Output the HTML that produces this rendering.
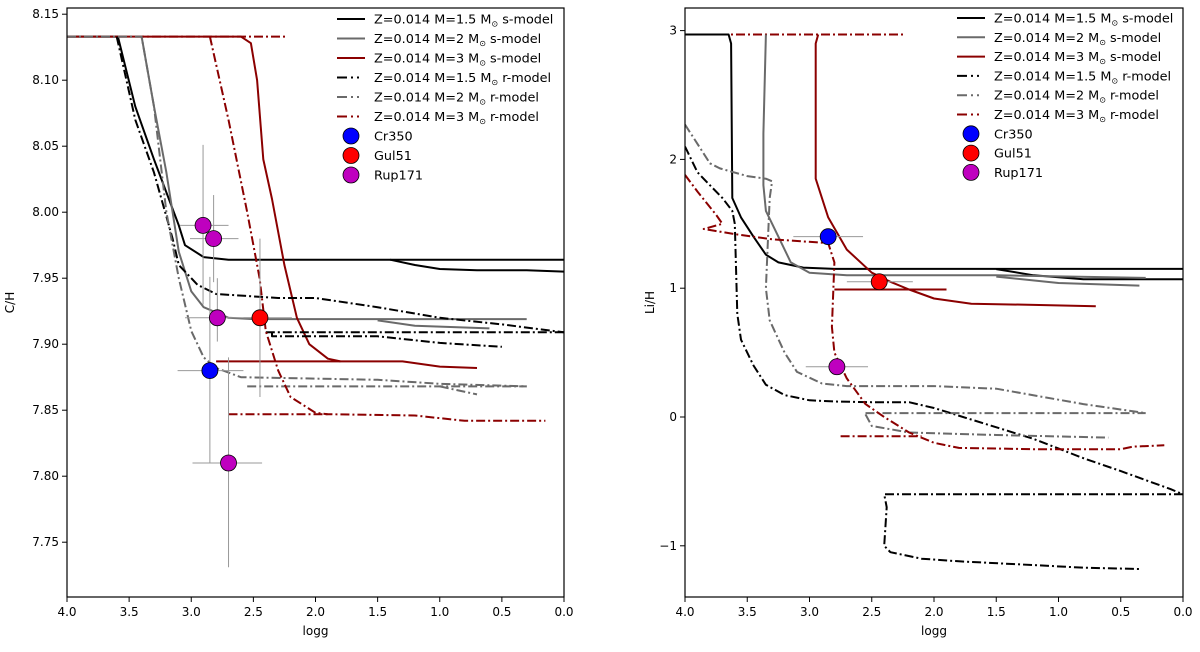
<!DOCTYPE html>
<html><head><meta charset="utf-8"><style>
html,body{margin:0;padding:0;background:#fff}
svg text{font-family:"DejaVu Sans","Liberation Sans",sans-serif;fill:#000}
</style></head><body>
<svg id="chart" width="1200" height="647" xmlns="http://www.w3.org/2000/svg"></svg>
<script>
// ---- data (logg, abundance) ----
const topC = 8.133, topLi = 2.97;
const cS15 = [[4,topC],[3.59,topC],[3.45,8.08],[3.3,8.04],[3.1,7.99],[3.05,7.975],[2.9,7.966],[2.7,7.964],[1.5,7.964],[0,7.964]];
const cS15b = [[1.4,7.964],[1.2,7.96],[1.0,7.957],[0.7,7.956],[0.3,7.956],[0,7.955]];
const cS2 = [[3.4,topC],[3.3,8.08],[3.2,8.03],[3.1,7.97],[3.0,7.94],[2.9,7.928],[2.7,7.92],[2.5,7.919],[0.3,7.919]];
const cS2b = [[1.5,7.918],[1.2,7.914],[0.6,7.912]];
const cS3 = [[4,topC],[2.6,topC],[2.52,8.128],[2.47,8.1],[2.42,8.04],[2.35,8.01],[2.25,7.96],[2.15,7.92],[2.05,7.9],[1.9,7.889],[1.8,7.887],[1.3,7.887],[1.0,7.883],[0.7,7.882]];
const cS3b = [[2.8,7.887],[1.8,7.887]];
const cR15 = [[3.6,topC],[3.45,8.07],[3.3,8.03],[3.15,7.98],[3.1,7.96],[2.95,7.945],[2.8,7.938],[2.3,7.935],[2.0,7.935],[1.5,7.928],[1.0,7.92],[0.5,7.915],[0,7.909]];
const cR15b = [[2.4,7.909],[0,7.909]];
const cR15c = [[2.35,7.909],[2.35,7.906],[1.5,7.906],[1.0,7.901],[0.5,7.898]];
const cR2 = [[4,topC],[3.4,topC],[3.3,8.08],[3.2,8.0],[3.1,7.95],[3.0,7.91],[2.9,7.89],[2.8,7.882],[2.6,7.875],[1.5,7.873],[1.0,7.87],[0.3,7.868]];
const cR2b = [[2.55,7.868],[0.3,7.868]];
const cR2c = [[1.0,7.868],[0.7,7.862]];
const cR3 = [[2.85,topC],[2.7,8.07],[2.55,8.0],[2.45,7.95],[2.4,7.91],[2.3,7.88],[2.2,7.86],[2.0,7.848],[1.9,7.847],[1.2,7.846],[0.8,7.842],[0.15,7.842]];
const cR3b = [[2.7,7.847],[1.9,7.847]];
const cTop = [[4,topC],[2.24,topC]];
const cPts = [{name:"Cr350",c:"#0000ff",g:2.85,v:7.88,gl:3.11,gh:2.58,vl:7.81,vh:7.951},
 {name:"Gul51",c:"#ff0000",g:2.447,v:7.92,gl:2.58,gh:2.19,vl:7.86,vh:7.98},
 {name:"Rup171",c:"#bf00bf",g:2.905,v:7.99,gl:3.09,gh:2.70,vl:7.93,vh:8.051},
 {name:"Rup171",c:"#bf00bf",g:2.82,v:7.98,gl:3.01,gh:2.62,vl:7.947,vh:8.013},
 {name:"Rup171",c:"#bf00bf",g:2.79,v:7.92,gl:3.05,gh:2.43,vl:7.902,vh:7.95},
 {name:"Rup171",c:"#bf00bf",g:2.70,v:7.81,gl:2.99,gh:2.43,vl:7.731,vh:7.89}];

const lS15 = [[4,topLi],[3.65,topLi],[3.63,2.9],[3.62,1.7],[3.55,1.55],[3.45,1.4],[3.35,1.26],[3.25,1.2],[3.05,1.16],[2.8,1.15],[1.5,1.15],[0,1.15]];
const lS15b = [[1.5,1.148],[1.2,1.1],[0.8,1.07],[0,1.07]];
const lS2 = [[3.35,topLi],[3.37,2.2],[3.37,1.8],[3.35,1.6],[3.25,1.4],[3.15,1.2],[3.0,1.12],[2.7,1.1],[1.5,1.1],[0.3,1.08]];
const lS2b = [[1.5,1.09],[1.0,1.04],[0.35,1.02]];
const lS3 = [[2.93,topLi],[2.95,2.9],[2.95,1.85],[2.85,1.55],[2.7,1.3],[2.5,1.12],[2.35,1.05],[2.2,0.99],[2.0,0.92],[1.7,0.88],[1.2,0.87],[0.7,0.86]];
const lS3b = [[2.8,0.99],[1.9,0.99]];
const lR15 = [[4.0,2.1],[3.95,2.0],[3.9,1.9],[3.8,1.8],[3.7,1.7],[3.62,1.6],[3.6,1.5],[3.58,0.8],[3.55,0.6],[3.45,0.4],[3.35,0.25],[3.2,0.17],[3.0,0.13],[2.8,0.12],[2.5,0.115],[2.2,0.115],[2.0,0.07],[1.6,-0.05],[1.2,-0.17],[0.8,-0.32],[0.5,-0.42],[0.1,-0.56],[0,-0.6]];
const lR15b = [[0,-0.6],[2.4,-0.6],[2.38,-0.7],[2.4,-1.0],[2.35,-1.05],[2.1,-1.1],[1.8,-1.12],[1.2,-1.15],[0.8,-1.17],[0.35,-1.18]];
const lR2 = [[4.0,2.27],[3.9,2.12],[3.8,1.97],[3.72,1.93],[3.5,1.87],[3.35,1.85],[3.3,1.83],[3.32,1.7],[3.35,1.0],[3.32,0.75],[3.2,0.5],[3.1,0.35],[2.9,0.26],[2.7,0.24],[2.0,0.24],[1.5,0.22],[0.8,0.1],[0.3,0.03]];
const lR2b = [[2.55,0.03],[0.3,0.03]];
const lR2c = [[2.55,0.02],[2.5,-0.07],[2.2,-0.12],[1.5,-0.14],[0.6,-0.16]];
const lR3 = [[4.0,1.88],[3.9,1.75],[3.75,1.57],[3.7,1.5],[3.85,1.46],[3.6,1.42],[3.3,1.38],[2.85,1.35],[2.8,1.2],[2.82,0.7],[2.8,0.5],[2.7,0.3],[2.55,0.1],[2.4,0.0],[2.2,-0.12],[2.0,-0.2],[1.8,-0.24],[1.2,-0.25],[0.5,-0.25],[0.4,-0.23],[0.15,-0.22]];
const lR3b = [[2.75,-0.15],[2.1,-0.15]];
const lTop = [[4,topLi],[2.23,topLi]];
const lPts = [{name:"Cr350",c:"#0000ff",g:2.85,v:1.40,gl:3.13,gh:2.57},
 {name:"Gul51",c:"#ff0000",g:2.44,v:1.05,gl:2.7,gh:2.17},
 {name:"Rup171",c:"#bf00bf",g:2.78,v:0.39,gl:3.03,gh:2.53}];

const xTicks = ["4.0","3.5","3.0","2.5","2.0","1.5","1.0","0.5","0.0"];
const cTicks = [8.15,8.10,8.05,8.00,7.95,7.90,7.85,7.80,7.75];
const cTickLabels = ["8.15","8.10","8.05","8.00","7.95","7.90","7.85","7.80","7.75"];
const lTicks = [3,2,1,0,-1];
const lTickLabels = ["3","2","1","0","\u22121"];
const legendLabels = ["Z=0.014 M=1.5 M","Z=0.014 M=2 M","Z=0.014 M=3 M","Z=0.014 M=1.5 M","Z=0.014 M=2 M","Z=0.014 M=3 M"];
const legendSuffix = [" s-model"," s-model"," s-model"," r-model"," r-model"," r-model"];

const NS="http://www.w3.org/2000/svg";
const svg=document.getElementById('chart');
function mk(tag,attrs,parent){const e=document.createElementNS(NS,tag);for(const k in attrs)e.setAttribute(k,attrs[k]);(parent||svg).appendChild(e);return e;}
const BLK="#000",GRY="#6a6a6a",RED="#8b0000",DD="9,3,2,3";

function panel(P){
  const g=mk('g',{});
  
  
  const X=v=>P.x0+(4-v)/4*(P.x1-P.x0);
  const Y=v=>P.yf(v);
  const clip=mk('clipPath',{id:P.id+'clip'},g);
  mk('rect',{x:P.x0,y:P.y0,width:P.x1-P.x0,height:P.y1-P.y0},clip);
  const plot=mk('g',{'clip-path':'url(#'+P.id+'clip)'},g);
  function line(arr,col,dash,name){
    const p=mk('path',{d:arr.map((q,i)=>(i?'L':'M')+X(q[0]).toFixed(1)+','+Y(q[1]).toFixed(1)).join(''),fill:'none',stroke:col,'stroke-width':2,'stroke-linejoin':'round','stroke-dasharray':dash||'none'},plot);
    
    
  }
  P.series.forEach(s=>line(s[0],s[1],s[2],s[3]));
  P.pts.forEach(pt=>{
    const eb=mk('g',{stroke:'#999','stroke-width':1},plot);
    
    
    mk('line',{x1:X(pt.gl),x2:X(pt.gh),y1:Y(pt.v),y2:Y(pt.v)},eb);
    if(pt.vl!==undefined) mk('line',{x1:X(pt.g),x2:X(pt.g),y1:Y(pt.vl),y2:Y(pt.vh)},eb);
  });
  P.pts.forEach(pt=>{
    const c=mk('circle',{cx:X(pt.g),cy:Y(pt.v),r:8,fill:pt.c,stroke:'#000','stroke-width':0.8},plot);
    
    
  });
  const fr=mk('rect',{x:P.x0,y:P.y0,width:P.x1-P.x0,height:P.y1-P.y0,fill:'none',stroke:'#000','stroke-width':1.2},g);
  
  
  xTicks.forEach((t,i)=>{
    const x=X(4-i*0.5);
    mk('line',{x1:x,x2:x,y1:P.y1,y2:P.y1+5,stroke:'#000'},g);
    const tx=mk('text',{x:x,y:P.y1+19,'text-anchor':'middle','font-size':12},g);tx.textContent=t;
    
    
  });
  P.yt.forEach((v,i)=>{
    const y=Y(v);
    mk('line',{x1:P.x0-5,x2:P.x0,y1:y,y2:y,stroke:'#000'},g);
    const tx=mk('text',{x:P.x0-8,y:y+4,'text-anchor':'end','font-size':12},g);tx.textContent=P.ytl[i];
    
    
  });
  const xl=mk('text',{x:(P.x0+P.x1)/2,y:P.y1+38,'text-anchor':'middle','font-size':12},g);xl.textContent='logg';
  
  
  const yl=mk('text',{x:0,y:0,'text-anchor':'middle','font-size':12,transform:'translate('+P.ylx+','+(P.y0+P.y1)/2+') rotate(-90)'},g);yl.textContent=P.ylab;
  
  
  // legend
  const lg=mk('g',{},g);
  
  
  const cols=[BLK,GRY,RED,BLK,GRY,RED];
  for(let i=0;i<6;i++){
    const y=P.ly+i*P.ls;
    mk('line',{x1:P.lx,x2:P.lx+28,y1:y,y2:y,stroke:cols[i],'stroke-width':2,'stroke-dasharray':i<3?'none':'10,4,2,4,2,6'},lg);
    const t=mk('text',{x:P.lx+37,y:y+4.5,'font-size':12.8},lg);
    
    
    t.appendChild(document.createTextNode(legendLabels[i]));
    const s=mk('tspan',{'font-size':8,dy:3},t);s.textContent='\u2299';
    const s2=mk('tspan',{dy:-3},t);s2.textContent=legendSuffix[i];
  }
  ['#0000ff','#ff0000','#bf00bf'].forEach((c,i)=>{
    const y=P.ly+(6+i)*P.ls;
    mk('circle',{cx:P.lx+14,cy:y,r:8,fill:c,stroke:'#000','stroke-width':0.8},lg);
    const t=mk('text',{x:P.lx+37,y:y+4.5,'font-size':12.8},lg);t.textContent=['Cr350','Gul51','Rup171'][i];
    
    
  });
}
panel({id:'carbon',x0:67,x1:564,y0:8,y1:597,yf:v=>14.2+(8.15-v)/0.05*66,yt:cTicks,ytl:cTickLabels,ylab:'C/H',ylx:14,lx:337,ly:19,ls:19.5,
  pts:cPts,series:[
  [cTop,RED,DD,'top-line'],
  [cS15,BLK,null,'s-model-m15'],[cS15b,BLK,null,'s-model-m15-branch'],
  [cS2,GRY,null,'s-model-m2'],[cS2b,GRY,null,'s-model-m2-branch'],
  [cS3,RED,null,'s-model-m3'],[cS3b,RED,null,'s-model-m3-branch'],
  [cR15,BLK,DD,'r-model-m15'],[cR15b,BLK,DD,'r-model-m15-branch'],[cR15c,BLK,DD,'r-model-m15-branch2'],
  [cR2,GRY,DD,'r-model-m2'],[cR2b,GRY,DD,'r-model-m2-branch'],[cR2c,GRY,DD,'r-model-m2-branch2'],
  [cR3,RED,DD,'r-model-m3'],[cR3b,RED,DD,'r-model-m3-branch']]});
panel({id:'lithium',x0:685,x1:1183,y0:8,y1:597,yf:v=>417-v*128.8,yt:lTicks,ytl:lTickLabels,ylab:'Li/H',ylx:654,lx:957,ly:18,ls:19.3,
  pts:lPts,series:[
  [lTop,RED,DD,'top-line'],
  [lS15,BLK,null,'s-model-m15'],[lS15b,BLK,null,'s-model-m15-branch'],
  [lS2,GRY,null,'s-model-m2'],[lS2b,GRY,null,'s-model-m2-branch'],
  [lS3,RED,null,'s-model-m3'],[lS3b,RED,null,'s-model-m3-branch'],
  [lR15,BLK,DD,'r-model-m15'],[lR15b,BLK,DD,'r-model-m15-branch'],
  [lR2,GRY,DD,'r-model-m2'],[lR2b,GRY,DD,'r-model-m2-branch'],[lR2c,GRY,DD,'r-model-m2-branch2'],
  [lR3,RED,DD,'r-model-m3'],[lR3b,RED,DD,'r-model-m3-branch']]});
</script>
</body></html>
